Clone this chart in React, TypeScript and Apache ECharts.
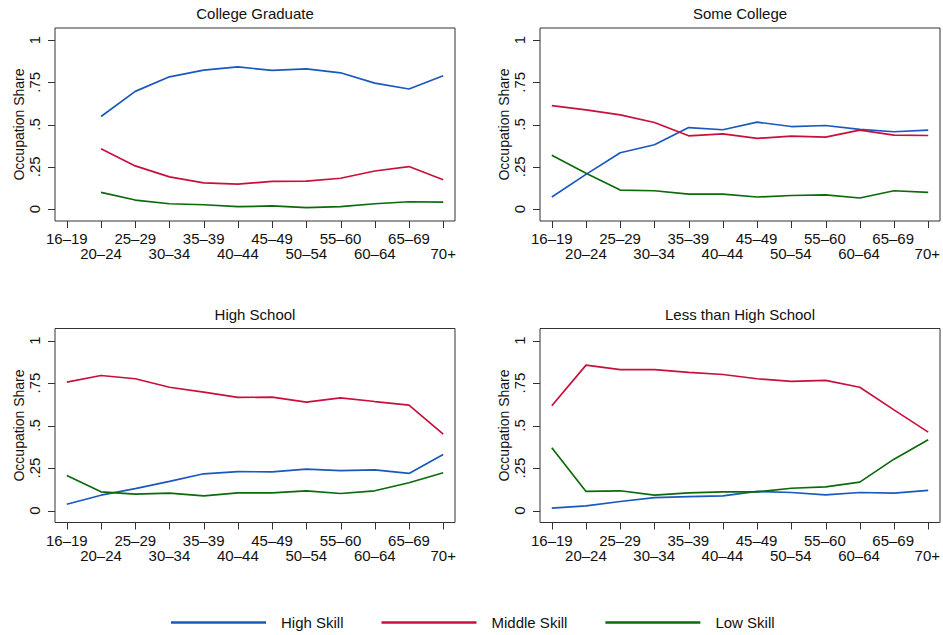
import React, { useEffect, useRef } from "react";
import * as echarts from "echarts";

const ageLabels = ["16–19", "20–24", "25–29", "30–34", "35–39", "40–44", "45–49", "50–54", "55–60", "60–64", "65–69", "70+"];
const yTicks = [0, 0.25, 0.5, 0.75, 1];
const yTickLabels: Record<string, string> = { "0": "0", "0.25": ".25", "0.5": ".5", "0.75": ".75", "1": "1" };
const panelTitles = ["College Graduate", "Some College", "High School", "Less than High School"];
const seriesNames = ["High Skill", "Middle Skill", "Low Skill"];

const cgHigh = [null, 0.547, 0.696, 0.782, 0.822, 0.841, 0.82, 0.829, 0.806, 0.745, 0.71, 0.788];
const cgMid = [null, 0.357, 0.255, 0.19, 0.155, 0.147, 0.163, 0.165, 0.182, 0.225, 0.251, 0.173];
const cgLow = [null, 0.098, 0.053, 0.031, 0.025, 0.014, 0.018, 0.008, 0.014, 0.031, 0.043, 0.041];

const scHigh = [0.071, 0.205, 0.333, 0.38, 0.482, 0.469, 0.514, 0.488, 0.494, 0.471, 0.457, 0.467];
const scMid = [0.612, 0.586, 0.557, 0.512, 0.433, 0.445, 0.418, 0.431, 0.425, 0.467, 0.437, 0.435];
const scLow = [0.318, 0.212, 0.112, 0.108, 0.088, 0.088, 0.071, 0.08, 0.084, 0.065, 0.108, 0.098];

const hsHigh = [0.037, 0.09, 0.129, 0.171, 0.216, 0.229, 0.227, 0.243, 0.235, 0.239, 0.218, 0.329];
const hsMid = [0.755, 0.794, 0.775, 0.725, 0.696, 0.665, 0.667, 0.637, 0.663, 0.641, 0.62, 0.449];
const hsLow = [0.206, 0.11, 0.096, 0.102, 0.086, 0.104, 0.104, 0.116, 0.1, 0.116, 0.163, 0.222];

const lhsHigh = [0.014, 0.027, 0.053, 0.076, 0.082, 0.086, 0.112, 0.106, 0.092, 0.106, 0.102, 0.118];
const lhsMid = [0.616, 0.855, 0.829, 0.829, 0.812, 0.8, 0.775, 0.759, 0.765, 0.725, 0.592, 0.461];
const lhsLow = [0.369, 0.112, 0.116, 0.09, 0.104, 0.11, 0.11, 0.131, 0.139, 0.167, 0.302, 0.416];

const panelData = [
  [cgHigh, cgMid, cgLow],
  [scHigh, scMid, scLow],
  [hsHigh, hsMid, hsLow],
  [lhsHigh, lhsMid, lhsLow],
];

const colors = ["#1a58bd", "#c8103c", "#0c6a0c"];
const FONT = "'Liberation Sans', Arial, Helvetica, sans-serif";

// outer plot boxes (frame) of each panel
const boxes = [
  { x: 55, y: 28, w: 400, h: 193 },
  { x: 540, y: 28, w: 400, h: 193 },
  { x: 55, y: 328.5, w: 400, h: 194 },
  { x: 540, y: 328.5, w: 400, h: 194 },
];
const PAD_X = 11.8; // gap between frame and first/last category
const PAD_BOTTOM = 12; // gap between frame bottom and y = 0
const PAD_TOP = 12; // gap between y = 1 and frame top
const TICK_LEN = 7;

export default function App() {
  const ref = useRef<HTMLDivElement>(null);
  useEffect(() => {
    if (!ref.current) return;
    const chart = echarts.init(ref.current, null, { renderer: "svg" });

    const grid: any[] = [];
    const xAxis: any[] = [];
    const yAxis: any[] = [];
    const series: any[] = [];
    const dataAxes: { x: number; y: number }[] = [];

    boxes.forEach((b, p) => {
      const dataRect = { left: b.x + PAD_X, top: b.y + PAD_TOP, width: b.w - 2 * PAD_X, height: b.h - PAD_TOP - PAD_BOTTOM };
      const xRect = { left: b.x + PAD_X, top: b.y, width: b.w - 2 * PAD_X, height: b.h };
      const yRect = { left: b.x, top: b.y + PAD_TOP, width: b.w, height: b.h - PAD_TOP - PAD_BOTTOM };
      const gD = grid.length;
      grid.push({ ...dataRect, containLabel: false });
      grid.push({ ...xRect, containLabel: false });
      grid.push({ ...yRect, containLabel: false });

      // data grid axes (hidden; they place the lines)
      const xD = xAxis.length;
      xAxis.push({ type: "category", gridIndex: gD, data: ageLabels, boundaryGap: false, show: false });
      const yD = yAxis.length;
      yAxis.push({ type: "value", gridIndex: gD, min: 0, max: 1, show: false, splitLine: { show: false } });
      dataAxes.push({ x: xD, y: yD });

      // visible x axis labels on the frame bottom
      xAxis.push({
        type: "category",
        gridIndex: gD + 1,
        data: ageLabels,
        boundaryGap: false,
        axisLine: { show: false },
        splitLine: { show: false },
        axisTick: { show: false },
        axisLabel: {
          interval: 0,
          fontFamily: FONT,
          fontSize: 15,
          color: "#111",
          margin: 10,
          lineHeight: 15,
          formatter: (v: string, idx: number) => (idx % 2 === 1 ? "\n" + v : v),
        },
      });
      yAxis.push({ type: "value", gridIndex: gD + 1, min: 0, max: 1, show: false, splitLine: { show: false } });

      // visible y axis labels on the frame left
      xAxis.push({ type: "category", gridIndex: gD + 2, data: ageLabels, boundaryGap: false, show: false });
      yAxis.push({
        type: "value",
        gridIndex: gD + 2,
        min: 0,
        max: 1,
        interval: 0.25,
        name: "Occupation Share",
        nameLocation: "middle",
        nameGap: 21,
        nameTextStyle: { fontFamily: FONT, fontSize: 14, color: "#111" },
        axisLine: { show: false },
        splitLine: { show: false },
        axisTick: { show: false },
        axisLabel: {
          rotate: 90,
          fontFamily: FONT,
          fontSize: 15,
          color: "#111",
          margin: 13,
          formatter: (v: number) => yTickLabels[String(v)] ?? "",
        },
      });

      panelData[p].forEach((vals, s) => {
        series.push({
          type: "line",
          name: seriesNames[s],
          xAxisIndex: xD,
          yAxisIndex: yD,
          showSymbol: false,
          symbol: "none",
          color: colors[s],
          lineStyle: { width: 1.7, color: colors[s] },
          data: vals.map((v) => (v === null ? "-" : v)),
        });
      });
    });

    const frames = boxes.map((b) => ({
      type: "rect",
      shape: { x: b.x, y: b.y, width: b.w, height: b.h },
      style: { fill: "none", stroke: "#333", lineWidth: 1 },
      silent: true,
    }));

    const option: any = {
      animation: false,
      textStyle: { fontFamily: FONT },
      title: boxes.map((b, i) => ({
        text: panelTitles[i],
        left: b.x + b.w / 2,
        top: b.y - 22,
        textAlign: "center",
        padding: 0,
        textStyle: { fontFamily: FONT, fontSize: 15, fontWeight: "normal", color: "#111" },
      })),
      legend: {
        left: 166,
        top: 610,
        data: seriesNames,
        icon: "rect",
        itemWidth: 95,
        itemHeight: 2.5,
        itemGap: 38,
        textStyle: { fontFamily: FONT, fontSize: 15, color: "#111", padding: [0, 0, 0, 10] },
      },
      graphic: frames,
      grid,
      xAxis,
      yAxis,
      series,
    };

    chart.setOption(option);

    // tick marks: positions taken from the axes' own scales
    const ticks: any[] = [];
    boxes.forEach((b, p) => {
      const ax = dataAxes[p];
      const bottom = b.y + b.h;
      ageLabels.forEach((_, i) => {
        const px = chart.convertToPixel({ xAxisIndex: ax.x } as any, i) as unknown as number;
        if (typeof px !== "number" || !isFinite(px)) return;
        const x = Math.round(px) + 0.5;
        ticks.push({
          type: "line",
          silent: true,
          shape: { x1: x, y1: bottom, x2: x, y2: bottom + TICK_LEN },
          style: { stroke: "#333", lineWidth: 1 },
        });
      });
      yTicks.forEach((v) => {
        const py = chart.convertToPixel({ yAxisIndex: ax.y } as any, v) as unknown as number;
        if (typeof py !== "number" || !isFinite(py)) return;
        const y = Math.round(py) + 0.5;
        ticks.push({
          type: "line",
          silent: true,
          shape: { x1: b.x - TICK_LEN, y1: y, x2: b.x, y2: y },
          style: { stroke: "#333", lineWidth: 1 },
        });
      });
    });
    chart.setOption({ graphic: [...frames, ...ticks] });

    return () => chart.dispose();
  }, []);

  return (
    <div
      ref={ref}
      style={{ position: "absolute", left: 0, top: 0, width: 943, height: 635, background: "#fff" }}
    />
  );
}
